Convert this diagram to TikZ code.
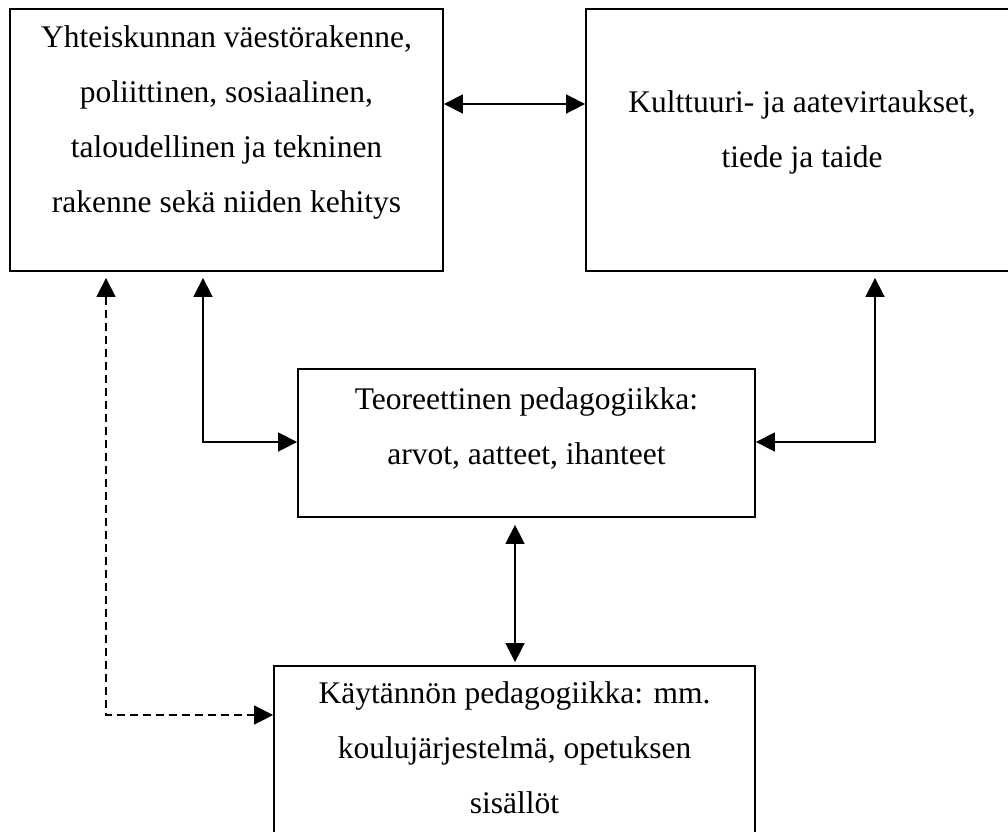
\documentclass[tikz,border=0pt]{standalone}
\usepackage{fontspec}
\setmainfont{Liberation Serif}
\usetikzlibrary{arrows.meta}
\begin{document}
\begin{tikzpicture}[x=1pt,y=-1pt,
  boxnode/.style={draw, line width=1.8pt, inner sep=0pt, fill=none},
  txt/.style={align=center, inner sep=0pt, anchor=base, font=\fontsize{31.5}{55}\selectfont},
  conn/.style={line width=1.6pt, {Triangle[length=19pt,width=19pt]}-{Triangle[length=19pt,width=19pt]}},
  dconn/.style={line width=1.4pt, dash pattern=on 8pt off 5pt, {Triangle[length=19pt,width=19pt]}-{Triangle[length=19pt,width=19pt]}}]
\useasboundingbox[fill=white] (0,0) rectangle (1008,831);
\clip (0,0) rectangle (1008,831);
% boxes
\node[boxnode, minimum width=433pt, minimum height=262pt] (box1) at (226.5,140) {};
\node[boxnode, minimum width=432pt, minimum height=262pt] (box2) at (802,140) {};
\node[boxnode, minimum width=457pt, minimum height=148pt] (box3) at (526.5,443) {};
\node[boxnode, minimum width=481pt, minimum height=194pt] (box4) at (514.5,763) {};
% texts (anchor base = baseline of last line)
\node[txt] (t1) at (226.5,212) {Yhteiskunnan väestörakenne,\\poliittinen, sosiaalinen,\\taloudellinen ja tekninen\\rakenne sekä niiden kehitys};
\node[txt] (t2) at (802,167) {Kulttuuri- ja aatevirtaukset,\\tiede ja taide};
\node[txt] (t3) at (526.5,464) {Teoreettinen pedagogiikka:\\arvot, aatteet, ihanteet};
\node[txt] (t4) at (514.5,813) {Käytännön pedagogiikka: mm.\\koulujärjestelmä, opetuksen\\sisällöt};
% bend points
\coordinate (ka) at (0,104);
\coordinate (k1) at (203,442);
\coordinate (k2) at (875,442);
\coordinate (k3) at (515,0);
\coordinate (k5) at (106,715);
% connectors
\draw[conn] (box1.east |- ka) -- (box2.west |- ka);
\draw[conn, shorten <=6pt] (box1.south -| k1) -- (k1) -- (k1 -| box3.west);
\draw[conn, shorten <=6pt] (box2.south -| k2) -- (k2) -- (k2 -| box3.east);
\draw[conn, shorten <=7pt, shorten >=3pt] (box3.south -| k3) -- (box4.north -| k3);
\draw[dconn, shorten <=6pt] (box1.south -| k5) -- (k5) -- (k5 -| box4.west);
\end{tikzpicture}
\end{document}
